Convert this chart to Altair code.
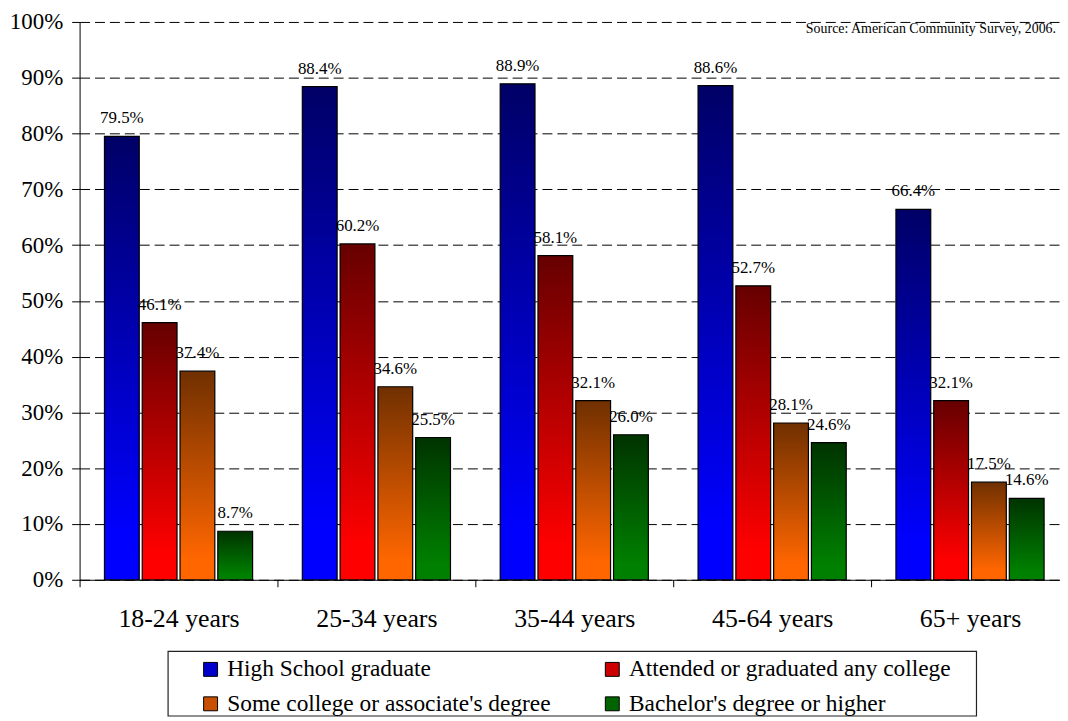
import altair as alt
import pandas as pd

groups = ["18-24 years", "25-34 years", "35-44 years", "45-64 years", "65+ years"]
series = ["High School graduate", "Attended or graduated any college",
          "Some college or associate's degree", "Bachelor's degree or higher"]
hs = [79.5, 88.4, 88.9, 88.6, 66.4]
att = [46.1, 60.2, 58.1, 52.7, 32.1]
some = [37.4, 34.6, 32.1, 28.1, 17.5]
bach = [8.7, 25.5, 26.0, 24.6, 14.6]
y_ticks = [0, 10, 20, 30, 40, 50, 60, 70, 80, 90, 100]
source_text = "Source: American Community Survey, 2006."

top_colors = ["#000066", "#660000", "#703000", "#003300"]
bottom_colors = ["#0000ff", "#ff0000", "#ff6600", "#008000"]
legend_colors = ["#0000cc", "#cc0000", "#c85000", "#006400"]

rows = []
for i, (s, vals) in enumerate(zip(series, [hs, att, some, bach])):
    for g, v in zip(groups, vals):
        rows.append({"group": g, "series": s, "idx": i, "value": v})
df = pd.DataFrame(rows)

FONT = "Liberation Serif"
W, H = 986, 561
X_RANGE = 995


def grad(top, bottom):
    return {"gradient": "linear", "x1": 0, "y1": 0, "x2": 0, "y2": 1,
            "stops": [{"offset": 0, "color": top},
                      {"offset": 0.9, "color": bottom},
                      {"offset": 1, "color": bottom}]}


fill_def = {
    "condition": [{"test": f"datum.idx === {i}", "value": grad(top_colors[i], bottom_colors[i])}
                  for i in range(3)],
    "value": grad(top_colors[3], bottom_colors[3]),
}

x_enc = alt.X("group:N", sort=groups,
              scale=alt.Scale(paddingInner=0, paddingOuter=0, range=[0, X_RANGE]),
              axis=alt.Axis(title=None, labelAngle=0, labelFont=FONT, labelFontSize=26,
                            labelColor="black", tickBand="extent", tickSize=7,
                            tickColor="black", domainColor="black", labelPadding=19,
                            grid=False))
xo_enc = alt.XOffset("series:N", sort=series,
                     scale=alt.Scale(domain=series, paddingInner=0.079, paddingOuter=0.658))
y_enc = alt.Y("value:Q", scale=alt.Scale(domain=[0, 100], nice=False),
              axis=alt.Axis(title=None, values=y_ticks, labelExpr="datum.value + '%'",
                            labelFont=FONT, labelFontSize=23, labelColor="black",
                            labelPadding=9, tickSize=8, tickColor="black",
                            domainColor="black", gridColor="black", gridDash=[10, 5],
                            gridOpacity=1, gridWidth=1))

base = alt.Chart(df)

bars = base.mark_bar(stroke="black", strokeWidth=1.2).encode(
    x=x_enc, xOffset=xo_enc, y=y_enc, fill=fill_def
)

labels = base.transform_calculate(
    lbl="format(datum.value, '.1f') + '%'"
).mark_text(font=FONT, fontSize=17, color="black", baseline="alphabetic", dy=-13).encode(
    x=x_enc, xOffset=xo_enc, y=y_enc, text="lbl:N"
)

source = alt.Chart(pd.DataFrame({"t": [source_text]})).mark_text(
    font=FONT, fontSize=14, color="black", align="right", baseline="middle"
).encode(x=alt.value(W - 4), y=alt.value(7), text="t:N")

legend_frame = alt.Chart(pd.DataFrame({"t": [0]})).mark_rect(
    fill="white", stroke="#222222", strokeWidth=1.2
).encode(x=alt.value(89), x2=alt.value(902), y=alt.value(633), y2=alt.value(698))

legend_layer = base.transform_filter("false").mark_square(opacity=1).encode(
    color=alt.Color("series:N", scale=alt.Scale(domain=series, range=legend_colors),
                    legend=alt.Legend(
                        title=None, orient="none", legendX=120, legendY=639,
                        columns=2, direction="horizontal",
                        labelFont=FONT, labelFontSize=23.5, labelColor="black",
                        labelLimit=1000,
                        symbolType="square", symbolSize=196, symbolStrokeColor="black",
                        symbolStrokeWidth=1, symbolOpacity=1, labelOffset=5,
                        rowPadding=10, columnPadding=50, padding=0))
)

chart = alt.layer(bars, labels, source, legend_frame, legend_layer).properties(
    width=W, height=H,
    autosize=alt.AutoSizeParams(type="none"),
    padding={"left": 72, "top": 12, "right": 0, "bottom": 139},
    background="white",
).configure_view(stroke=None)

chart.save("out.html", embed_options={"renderer": "svg", "actions": False})
